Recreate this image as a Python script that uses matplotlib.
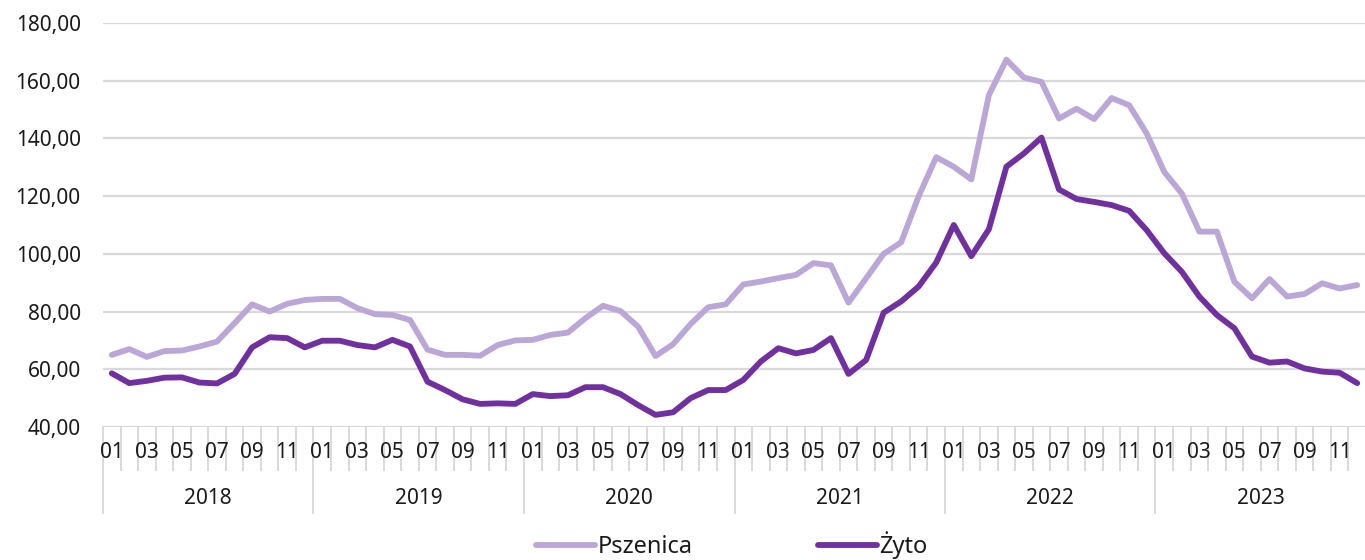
import matplotlib
matplotlib.use("Agg")
import matplotlib.pyplot as plt
import matplotlib.transforms as mtransforms
import numpy as np

plt.rcParams['font.family'] = ['Noto Sans', 'DejaVu Sans']

years = ["2018", "2019", "2020", "2021", "2022", "2023"]
month_labels = ["01", "", "03", "", "05", "", "07", "", "09", "", "11", ""]
y_ticks = [40, 60, 80, 100, 120, 140, 160, 180]

pszenica = [
    65.0, 67.0, 64.3, 66.3, 66.5, 67.9, 69.6, 76.0, 82.5, 80.0, 82.7, 84.0,
    84.4, 84.4, 81.2, 79.1, 78.8, 77.1, 66.8, 65.0, 65.0, 64.7, 68.4, 70.0,
    70.2, 71.9, 72.7, 77.7, 82.0, 80.2, 74.8, 64.6, 68.7, 75.7, 81.5, 82.5,
    89.4, 90.4, 91.6, 92.7, 96.8, 96.0, 83.1, 91.5, 100.0, 104.0, 120.0, 133.5,
    130.2, 125.8, 155.0, 167.3, 161.1, 159.6, 146.9, 150.3, 146.7, 154.0, 151.5, 141.7,
    128.4, 120.9, 107.7, 107.7, 90.3, 84.6, 91.3, 85.2, 86.1, 89.8, 88.0, 89.2,
]
zyto = [
    58.6, 55.2, 56.0, 57.1, 57.2, 55.4, 55.1, 58.4, 67.6, 71.1, 70.8, 67.6,
    69.9, 69.9, 68.4, 67.6, 70.2, 67.9, 55.7, 52.8, 49.6, 48.0, 48.2, 48.0,
    51.4, 50.7, 51.0, 53.8, 53.8, 51.4, 47.6, 44.2, 45.1, 50.0, 52.8, 52.8,
    56.3, 62.7, 67.3, 65.5, 66.7, 70.8, 58.4, 63.2, 79.6, 83.5, 88.7, 97.0,
    110.0, 99.2, 108.5, 130.2, 134.8, 140.3, 122.3, 119.0, 118.0, 116.9, 114.9, 108.2,
    100.2, 93.8, 85.2, 78.8, 74.2, 64.4, 62.3, 62.7, 60.3, 59.2, 58.8, 55.2,
]

c_light = "#BBA7D7"
c_dark = "#7030A0"
c_grid = "#D9D9D9"

fig = plt.figure(figsize=(13.65, 5.6), dpi=100)
ax = fig.add_axes([103 / 1365, 1 - 427 / 560, 1263 / 1365, (427 - 23) / 560])

n = len(pszenica)
x = np.arange(n)
ax.plot(x, pszenica, color=c_light, lw=4.2, solid_capstyle='round', solid_joinstyle='round', label="Pszenica", zorder=3)
ax.plot(x, zyto, color=c_dark, lw=4.2, solid_capstyle='round', solid_joinstyle='round', label="Żyto", zorder=4)

ax.set_xlim(-0.5, n - 0.5)
ax.set_ylim(40, 180)
ax.set_yticks(y_ticks)
ax.set_yticklabels([f"{v:.2f}".replace(".", ",") for v in y_ticks], fontsize=15, color="#1a1a1a")
ax.tick_params(axis='y', length=0, pad=16)
ax.grid(axis='y', color=c_grid, lw=1.6)
ax.set_axisbelow(True)
for s in ax.spines.values():
    s.set_visible(False)

# category axis with separators
ax.set_xticks([])
trans = mtransforms.blended_transform_factory(ax.transData, ax.transAxes)
ax_h = (427 - 23)
short = -43 / ax_h
long_ = -86 / ax_h
for k in range(n + 1):
    xb = k - 0.5
    bottom = long_ if k % 12 == 0 else short
    ax.plot([xb, xb], [0, bottom], transform=trans, color=c_grid, lw=1.4, clip_on=False)

month_y = -26 / ax_h
year_y = -71 / ax_h
for i in range(n):
    lab = month_labels[i % 12]
    if lab:
        ax.text(i, month_y, lab, transform=trans, ha='center', va='center', fontsize=15, color="#1a1a1a")
for j, yr in enumerate(years):
    ax.text(j * 12 + 5.5, year_y, yr, transform=trans, ha='center', va='center', fontsize=15, color="#1a1a1a")

leg = fig.legend(loc='center', bbox_to_anchor=(0.536, 0.027), ncol=2, frameon=False,
                 fontsize=17, handlelength=2.5, handletextpad=0.1, columnspacing=5.3)
for t in leg.get_texts():
    t.set_color("#1a1a1a")

fig.savefig("out.png", dpi=100)
